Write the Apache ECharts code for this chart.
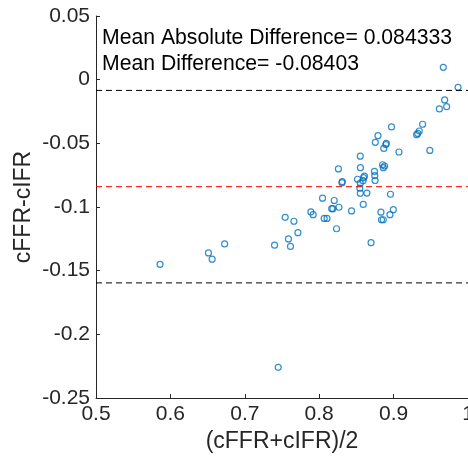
<!DOCTYPE html>
<html>
<head>
<meta charset="utf-8">
<script src="https://cdn.jsdelivr.net/npm/echarts@6/dist/echarts.min.js"></script>
<style>
html,body{margin:0;padding:0;background:#fff;overflow:hidden;}
#chart{width:480px;height:466px;}
</style>
</head>
<body>
<div id="chart"></div>
<script>
// Bland-Altman data: mean of the two measures (x) and difference (y)
const meanVals = [0.9668,0.9866,0.9686,0.9713,0.9615,0.8972,0.9390,0.9345,0.9325,0.9309,0.8790,0.8754,0.8902,0.8895,0.8868,0.9072,0.9487,0.8552,0.8852,0.8879,0.8861,0.8554,0.8258,0.8743,0.8747,0.8751,0.8608,0.8596,0.8589,0.8515,0.8552,0.8310,0.8306,0.8546,0.8552,0.8642,0.8958,0.8045,0.8202,0.8168,0.8184,0.8265,0.8592,0.8435,0.7888,0.7919,0.8996,0.8830,0.8951,0.8837,0.8861,0.7543,0.7660,0.8067,0.8105,0.8233,0.7714,0.7587,0.6729,0.7400,0.7614,0.8697,0.6511,0.6561,0.5861,0.7449];
const diffVals = [0.0097,-0.0060,-0.0159,-0.0212,-0.0230,-0.0371,-0.0350,-0.0403,-0.0422,-0.0432,-0.0440,-0.0492,-0.0501,-0.0510,-0.0540,-0.0568,-0.0556,-0.0601,-0.0668,-0.0678,-0.0691,-0.0691,-0.0701,-0.0721,-0.0754,-0.0792,-0.0758,-0.0770,-0.0793,-0.0782,-0.0813,-0.0801,-0.0809,-0.0852,-0.0892,-0.0891,-0.0900,-0.0931,-0.0949,-0.1013,-0.1013,-0.1002,-0.0980,-0.1031,-0.1039,-0.1060,-0.1021,-0.1041,-0.1060,-0.1100,-0.1100,-0.1081,-0.1112,-0.1090,-0.1090,-0.1171,-0.1202,-0.1251,-0.1290,-0.1300,-0.1310,-0.1280,-0.1361,-0.1410,-0.1450,-0.2259];
const meanDiff = -0.08403;
const upperLimit = -0.00843;
const lowerLimit = -0.1596;
const xRange = [0.5, 1.0];
const yRange = [-0.25, 0.05];
const annotations = ['Mean Absolute Difference= 0.084333', 'Mean Difference= -0.08403'];

const pts = [];
for (let i = 0; i < Math.min(meanVals.length, diffVals.length); i++) pts.push([meanVals[i], diffVals[i]]);

const FONT = 'Liberation Sans, Arial, Helvetica, sans-serif';
const AX = '#262626';
const fmt = v => String(Math.round(v * 100) / 100);

const chart = echarts.init(document.getElementById('chart'), null, {renderer: 'canvas'});
chart.setOption({
  animation: false,
  backgroundColor: '#fff',
  grid: {left: 96, right: 12, top: 16, bottom: 68, containLabel: false, outerBoundsMode: 'none'},
  xAxis: {
    type: 'value', min: xRange[0], max: xRange[1], interval: 0.1,
    name: '(cFFR+cIFR)/2', nameLocation: 'middle', nameGap: 32, nameMoveOverlap: false,
    nameTextStyle: {fontFamily: FONT, fontSize: 23, color: AX},
    axisLine: {show: true, onZero: false, lineStyle: {color: AX, width: 1}},
    axisTick: {show: true, inside: true, length: 4, lineStyle: {color: AX}},
    axisLabel: {fontFamily: FONT, fontSize: 21, color: AX, margin: 6, formatter: fmt,
                hideOverlap: false, showMaxLabel: true, showMinLabel: true},
    splitLine: {show: false}
  },
  yAxis: {
    type: 'value', min: yRange[0], max: yRange[1], interval: 0.05,
    name: 'cFFR-cIFR', nameLocation: 'middle', nameGap: 61, nameMoveOverlap: false,
    nameTextStyle: {fontFamily: FONT, fontSize: 23, color: AX},
    axisLine: {show: true, onZero: false, lineStyle: {color: AX, width: 1}},
    axisTick: {show: true, inside: true, length: 4, lineStyle: {color: AX}},
    axisLabel: {fontFamily: FONT, fontSize: 21, color: AX, margin: 6, formatter: fmt},
    splitLine: {show: false}
  },
  series: [
    {
      type: 'scatter', data: pts, symbol: 'circle', symbolSize: 6,
      itemStyle: {color: 'rgba(0,0,0,0)', borderColor: '#0072BD', borderWidth: 1.2},
      z: 3
    },
    {
      type: 'line', data: [[xRange[0], upperLimit], [xRange[1], upperLimit]], symbol: 'none',
      lineStyle: {color: '#000', width: 1, type: [6, 4]}, z: 4
    },
    {
      type: 'line', data: [[xRange[0], meanDiff], [xRange[1], meanDiff]], symbol: 'none',
      lineStyle: {color: '#FF0000', width: 1, type: [6, 4]}, z: 4
    },
    {
      type: 'line', data: [[xRange[0], lowerLimit], [xRange[1], lowerLimit]], symbol: 'none',
      lineStyle: {color: '#000', width: 1, type: [6, 4]}, z: 4
    }
  ],
  graphic: annotations.map((t, i) => ({
    type: 'text', left: 102, top: 28 + i * 26, z: 10,
    style: {text: t, fontFamily: FONT, fontSize: 21.2, fill: '#000'}
  }))
});
</script>
</body>
</html>
